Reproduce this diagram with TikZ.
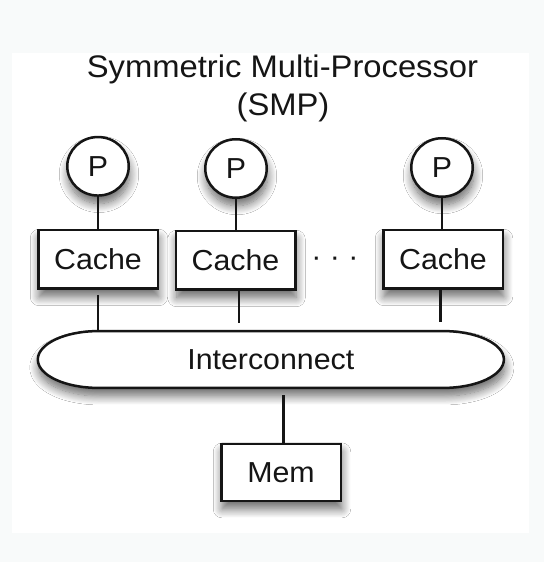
\documentclass[tikz,border=0pt]{standalone}
\usepackage{fontspec}
\setmainfont{Liberation Sans}[FakeStretch=1.05]
\usetikzlibrary{shapes.geometric,shadows.blur}
\definecolor{bgc}{HTML}{F8FAFA}
\definecolor{ink}{HTML}{151515}
\begin{document}
\begin{tikzpicture}[x=1pt,y=1pt,
  shp/.style={draw=ink, line width=2.5pt, fill=white,
    blur shadow={shadow xshift=1pt, shadow yshift=-8pt, shadow blur radius=9pt, shadow opacity=60, shadow blur steps=12}},
  bodyfont/.style={font=\fontsize{28.9}{34}\selectfont},
  proc/.style={shp, ellipse, minimum width=61.5pt, minimum height=58.5pt, inner sep=0pt, text=ink, bodyfont},
  cachebox/.style={shp, rectangle, minimum width=119.5pt, minimum height=58.5pt, inner sep=0pt, text=ink, bodyfont},
  lbl/.style={text=ink, inner sep=0pt, bodyfont},
  titlelbl/.style={text=ink, inner sep=0pt, font=\fontsize{31.2}{37}\selectfont},
  wire/.style={draw=ink, line width=2.5pt}
]
\fill[bgc] (0,0) rectangle (544,562);
\fill[white] (11.5,29) rectangle (529,509.3);
\useasboundingbox (0,0) rectangle (544,562);

% title
\node[titlelbl, anchor=base] (t1) at (282.5,484.5) {Symmetric Multi-Processor};
\node[titlelbl, anchor=base] (t2) at (283,446.5) {(SMP)};

% processors
\node[proc] (p1) at (98,395.7) {P};
\node[proc] (p2) at (236,393.5) {P};
\node[proc] (p3) at (442,394.5) {P};

% caches
\node[cachebox] (c1) at (98,302.5) {Cache};
\node[cachebox] (c2) at (235.5,301.5) {Cache};
\node[cachebox] (c3) at (443,302.5) {Cache};
\node[lbl, anchor=base] (dots) at (335,295) {· · ·};

% interconnect
\draw[shp] (98.3,230.9) -- (443.4,230.9)
  arc[start angle=90, end angle=-90, x radius=60.5, y radius=28.4]
  -- (98.3,174.1)
  arc[start angle=270, end angle=90, x radius=60.5, y radius=28.4] -- cycle;
\node[lbl, minimum width=466.1pt, minimum height=56.8pt] (ic) at (270.85,202.5) {Interconnect};

% memory
\node[cachebox, minimum width=119.5pt, minimum height=57pt] (mem) at (281,89.6) {Mem};

% connectors
\draw[wire] (p1.south) -- (p1.south |- c1.north);
\draw[wire] (p2.south) -- (p2.south |- c2.north);
\draw[wire] (p3.south) -- (p3.south |- c3.north);
\draw[wire, shorten <=5pt] (c1.south) -- (c1.south |- ic.north);
\draw[wire, shorten >=8pt] ([xshift=3.5pt]c2.south) -- ([xshift=3.5pt]c2.south |- ic.north);
\draw[wire, shorten >=9pt] ([xshift=-2.3pt]c3.south) -- ([xshift=-2.3pt]c3.south |- ic.north);
\draw[wire, shorten <=7pt] ([xshift=12.5pt]ic.south) -- ([xshift=12.5pt]ic.south |- mem.north);
\end{tikzpicture}
\end{document}
